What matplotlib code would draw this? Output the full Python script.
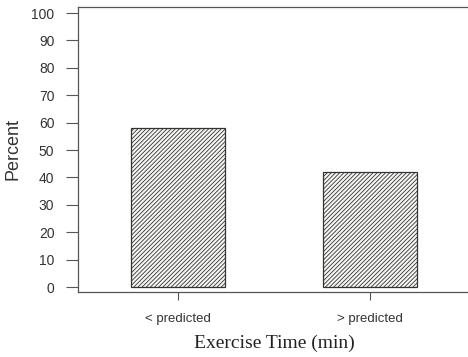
import matplotlib.pyplot as plt

categories = ['< predicted', '> predicted']
percents = [58, 42]
y_ticks = list(range(0, 101, 10))

plt.rcParams['hatch.linewidth'] = 0.6
plt.rcParams['hatch.color'] = '#555555'

fig = plt.figure(figsize=(4.68, 3.57), dpi=100)
ax = fig.add_axes([78 / 468, 1 - 292 / 357, 392 / 468, 285 / 357])

pos = list(range(len(categories)))
ax.bar(pos, percents, width=0.49, facecolor='#f6f6f4', edgecolor='#333333',
       hatch='////////', linewidth=0.9)

ax.set_xlim(-0.52, 1.52)
ax.set_ylim(-1.8, 102.2)
ax.set_xticks(pos)
ax.set_xticklabels(categories, family='Liberation Sans', fontsize=9.5, color='#333333')
ax.set_yticks(y_ticks)
ax.set_yticklabels([str(v) for v in y_ticks], family='Liberation Sans', fontsize=10,
                   color='#333333')
ax.tick_params(axis='y', length=9, width=0.8, pad=8, color='#555555')
ax.tick_params(axis='x', length=6, width=0.8, pad=9, color='#555555')

for side in ['left', 'bottom', 'top']:
    ax.spines[side].set_color('#555555')
    ax.spines[side].set_linewidth(0.9)
ax.spines['right'].set_visible(False)

ax.set_ylabel('Percent', family='Liberation Sans', fontsize=13, color='#333333')
ax.yaxis.set_label_coords(-0.143, 0.5)
ax.set_xlabel('Exercise Time (min)', family='Liberation Serif', fontsize=14,
              color='#222222', labelpad=7)

fig.savefig('out.png', dpi=100)
